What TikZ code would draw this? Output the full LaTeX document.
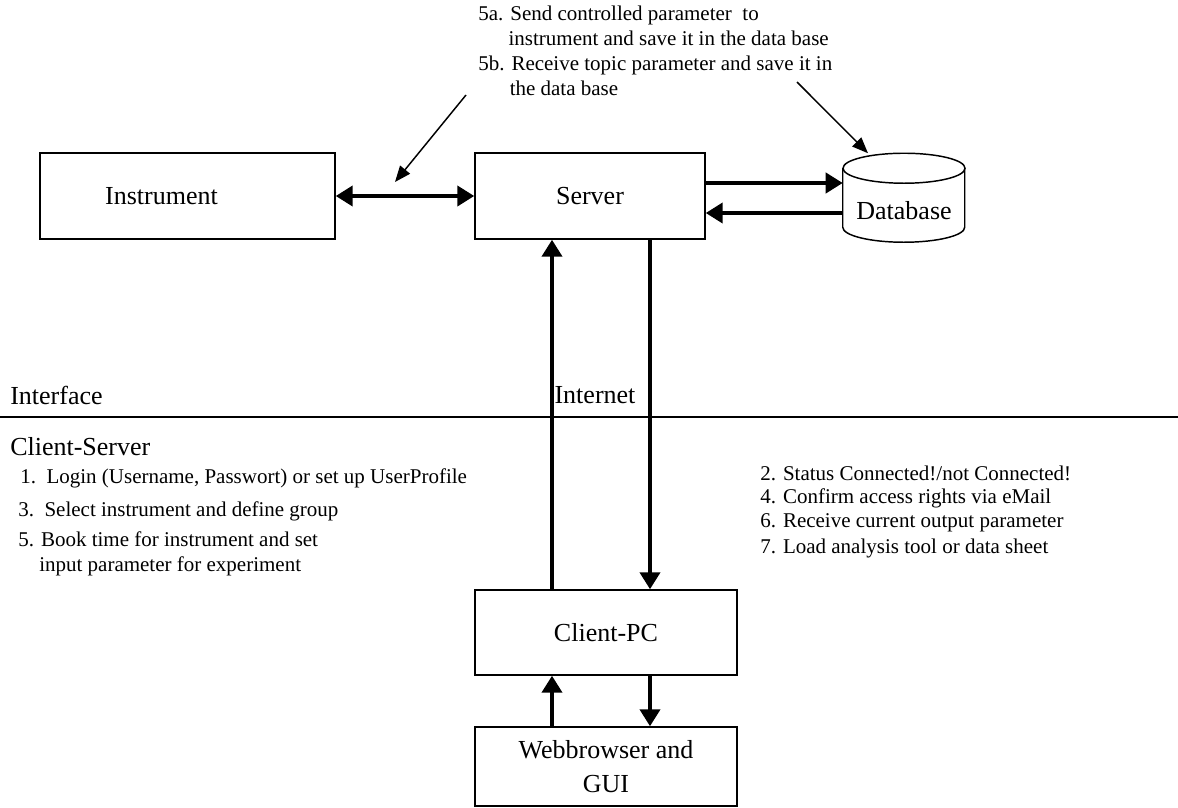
\documentclass[tikz,border=0pt]{standalone}
\usepackage{fontspec}
\setmainfont{Liberation Serif}
\usetikzlibrary{positioning}
\usetikzlibrary{arrows.meta}

\begin{document}
\begin{tikzpicture}[x=0.75pt,y=-0.75pt,
  box/.style={draw,line width=1.1pt,inner sep=0pt,font=\fontsize{19.5}{25}\selectfont},
  heading/.style={inner sep=0pt,font=\fontsize{19.5}{25}\selectfont},
  itemtext/.style={anchor=west,inner sep=0pt,align=left,font=\fontsize{15.75}{18.75}\selectfont},
  fatarrow/.style={line width=3pt,-{Triangle[length=12.75pt,width=15pt]}},
  fatboth/.style={line width=3pt,{Triangle[length=12.75pt,width=15pt]}-{Triangle[length=12.75pt,width=15pt]}},
  thinarrow/.style={line width=1.1pt,-{Triangle[length=12pt,width=9.5pt]}}]
\useasboundingbox (0,0) rectangle (1178,807);

% boxes
\node[box,minimum width=221.25pt,minimum height=64.5pt] (instr) at (187.5,196) {Instrument\hspace*{39pt}};
\node[box,minimum width=172.5pt,minimum height=64.5pt] (server) at (590,196) {Server};
\node[minimum width=91.5pt,minimum height=66.75pt,inner sep=0pt] (db) at (904,198) {};
\node[heading] (dbtext) at (904,211) {Database};
\node[box,minimum width=196.5pt,minimum height=63.75pt] (client) at (606,632.5) {Client-PC};
\node[box,minimum width=196.5pt,minimum height=59.25pt,align=center] (web) at (606,766.5) {Webbrowser and\\GUI};

% database drum
\draw[line width=1.1pt] (db.north) ++(0,15) ellipse [x radius=45.75pt,y radius=11.25pt];
\draw[line width=1.1pt] (db.north west) ++(0,15) -- ++(0,59)
  arc [start angle=180,end angle=360,x radius=45.75pt,y radius=11.25pt] -- ++(0,-59);

% interface line
\draw[line width=1.1pt] (0,417) -- (1178,417);
\node[heading,anchor=west] (iface) at (10,395) {Interface};
\node[heading] (inet) at (595,395) {Internet};
\node[heading,anchor=west] (cs) at (10,447) {Client-Server};

% notes
\node[itemtext,anchor=north west] (note5) at (478,6)
  {5a. Send controlled parameter\ \ to\\\phantom{5a.}\ instrument and save it in the data base\\
   5b. Receive topic parameter and save it in\\\phantom{5b.}\ the data base};
\node[itemtext] (step1) at (20,478) {1.\ \ Login (Username, Passwort) or set up UserProfile};
\node[itemtext] (step3) at (18,511) {3.\ \ Select instrument and define group};
\node[itemtext] (step5) at (18,554) {5. Book time for instrument and set\\\phantom{5.}\ input parameter for experiment};
\node[itemtext] (step2) at (760,473) {2. Status Connected!/not Connected!};
\node[itemtext] (step4) at (760,498) {4. Confirm access rights via eMail};
\node[itemtext] (step6) at (760,523) {6. Receive current output parameter};
\node[itemtext] (step7) at (760,548) {7. Load analysis tool or data sheet};

% connections
\draw[fatboth] (instr) -- (server);
\draw[fatarrow] ([yshift=9.75pt]server.east) -- ([yshift=9.75pt]server.east -| db.west);
\draw[fatarrow] ([yshift=-11.25pt]db.west) -- ([yshift=-11.25pt]db.west -| server.east);
\draw[fatarrow] ([xshift=-40.5pt]client.north) -- ([xshift=-40.5pt]client.north |- server.south);
\draw[fatarrow] ([xshift=33pt]client.north |- server.south) -- ([xshift=33pt]client.north);
\draw[fatarrow] ([xshift=-40.5pt]web.north) -- ([xshift=-40.5pt]client.south);
\draw[fatarrow] ([xshift=33pt]client.south) -- ([xshift=33pt]web.north);

% pointers from the notes
\coordinate (fromA) at (466,95);
\coordinate (toA) at (395,182);
\coordinate (fromB) at (797,82);
\draw[thinarrow] (fromA) -- (toA);
\draw[thinarrow] (fromB) -- ([xshift=-27pt]db.north);
\end{tikzpicture}
\end{document}
